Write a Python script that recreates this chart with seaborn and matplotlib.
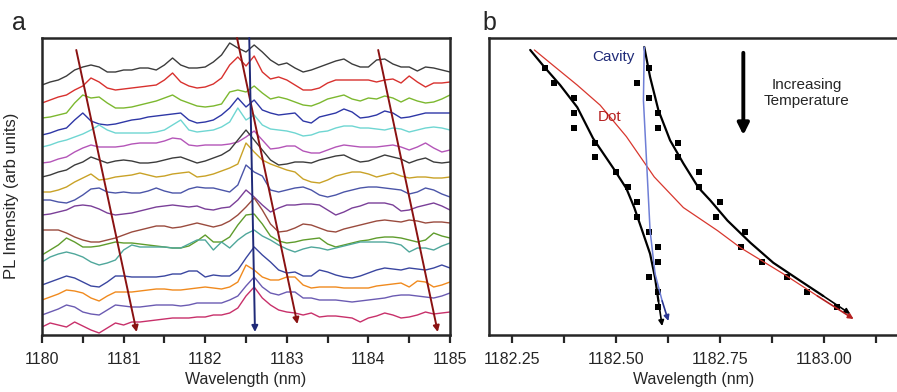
import numpy as np
import pandas as pd
import seaborn as sns
import matplotlib.pyplot as plt

# ---- panel a: stacked PL spectra (arb units, offset already included) ----
wavelength = np.round(np.linspace(1180, 1185, 51), 2)

spectra = [
    [255,258,260,264,270,273,275,273,268,268,270,270,272,272,270,275,282,275,272,272,273,278,285,297,292,288,295,288,280,275,277,272,268,270,273,276,279,281,276,273,273,280,281,276,273,273,269,273,272,270,268],
    [237,240,243,245,250,254,262,258,252,250,251,252,253,254,255,260,267,258,254,252,253,256,262,275,283,274,284,268,261,263,260,255,250,250,252,257,260,260,260,260,260,258,260,261,257,264,258,253,257,257,258],
    [222,223,225,227,237,245,242,243,237,232,232,233,235,237,239,242,245,240,237,234,233,234,236,248,250,248,254,247,241,243,241,238,235,234,237,241,243,245,241,239,242,241,244,242,238,242,239,237,238,241,245],
    [205,207,210,212,220,227,219,216,215,216,218,220,221,223,224,225,226,227,220,217,218,220,225,232,242,233,240,230,227,225,226,227,219,217,223,225,227,231,228,222,223,225,229,227,222,223,225,227,227,227,227],
    [193,195,198,200,203,206,210,215,210,207,207,207,207,207,208,210,215,220,210,208,209,210,213,218,232,220,225,215,211,210,209,207,204,205,208,209,212,214,214,212,212,211,210,212,211,208,210,212,213,212,210],
    [177,178,181,183,188,192,195,193,193,193,194,196,197,197,197,199,202,201,195,194,195,195,195,196,198,203,209,200,191,192,194,194,189,187,187,190,193,195,194,193,193,193,194,195,193,190,193,197,192,188,190],
    [163,165,168,170,175,178,183,180,177,179,180,179,177,177,178,180,182,183,180,177,179,182,185,190,200,210,200,190,180,175,176,178,178,177,180,182,184,185,181,178,179,182,185,183,181,177,180,182,178,177,178],
    [148,148,150,153,158,162,166,160,161,163,164,165,167,165,163,164,166,167,168,163,164,166,169,172,176,197,188,180,176,173,170,168,161,158,157,160,164,166,168,168,166,163,165,167,164,162,163,163,162,162,163],
    [140,140,138,137,140,145,151,152,148,147,148,147,147,149,152,149,147,147,151,153,152,152,150,148,155,175,168,164,150,148,150,152,153,150,145,143,145,148,150,152,153,153,152,151,150,146,148,152,150,146,143],
    [125,126,128,130,134,135,134,131,127,125,126,127,129,131,133,134,135,134,133,134,131,130,132,133,140,150,143,135,128,132,135,135,136,136,135,130,125,128,132,134,137,137,137,135,129,130,133,135,137,134,130],
    [110,110,110,107,103,100,98,98,100,102,105,108,110,112,114,114,112,113,115,117,115,113,115,119,125,133,142,130,116,108,109,112,116,115,112,109,108,111,113,115,117,119,120,119,118,120,119,117,118,118,117],
    [85,90,95,102,98,93,93,94,96,98,97,97,96,95,94,93,92,92,94,99,105,98,98,103,115,125,126,116,104,99,97,98,100,101,102,96,93,95,97,99,100,102,103,103,102,100,98,100,107,104,102],
    [78,83,86,88,86,83,78,75,77,80,90,95,93,93,93,93,92,92,96,100,100,90,98,92,100,106,110,104,100,95,91,88,91,93,92,90,92,94,96,98,98,98,98,97,95,88,92,92,90,94,97],
    [55,58,61,64,62,58,54,53,58,64,64,63,63,63,63,64,66,66,69,69,63,65,64,64,70,82,93,85,78,70,67,68,64,64,70,68,65,63,62,64,67,70,72,71,70,72,71,70,72,75,72],
    [40,43,46,50,49,47,42,39,44,48,48,48,49,50,51,51,50,50,51,52,53,52,51,53,58,75,70,63,60,60,63,63,55,52,53,53,53,52,52,52,52,54,55,56,57,53,59,58,53,55,58],
    [25,28,31,35,33,28,26,25,30,35,34,33,33,34,35,35,35,34,35,37,37,37,37,40,44,54,63,53,47,45,48,48,42,42,40,40,40,39,38,39,40,41,42,44,45,45,44,43,42,44,47],
    [13,17,15,13,18,14,10,7,12,17,15,18,18,19,20,21,22,22,22,23,23,25,25,27,32,44,53,42,35,30,28,27,25,27,23,24,24,23,22,18,22,24,27,25,22,23,25,28,26,27,28],
]
trace_colors = ["#3c3c3c", "#d8312e", "#7cb82f", "#2e37a6", "#6fd6d2", "#b455b8",
                "#3c3c3c", "#c9a227", "#4b55a8", "#7a3f98", "#9a4b3e", "#5f9c2c",
                "#4fa79b", "#3a46a0", "#f08a1e", "#6b5bb2", "#c8306a"]

# guide arrows in panel a: (x0, y0, x1, y1)
dot_arrows_a = [(1180.42, 290, 1181.16, 8), (1182.39, 302, 1183.13, 16), (1184.12, 290, 1184.85, 8)]
cavity_arrow_a = (1182.54, 302, 1182.61, 8)

# ---- panel b: peak positions vs temperature step ----
temp_step = list(range(1, 18))
branch_low = [1182.33, 1182.35, 1182.40, 1182.40, 1182.40, 1182.45, 1182.45, 1182.50, 1182.53,
              1182.55, 1182.55, 1182.58, 1182.60, 1182.60, 1182.58, 1182.60, 1182.60]
branch_high = [1182.58, 1182.55, 1182.58, 1182.60, 1182.60, 1182.65, 1182.65, 1182.70, 1182.70,
               1182.75, 1182.74, 1182.81, 1182.80, 1182.85, 1182.91, 1182.96, 1183.03]

fit_low_x = [1182.294, 1182.328, 1182.366, 1182.407, 1182.445, 1182.494, 1182.525, 1182.544,
             1182.563, 1182.582, 1182.594, 1182.602, 1182.611]
fit_low_y = [-0.19, 0.95, 2.16, 3.64, 5.72, 7.73, 9.07, 10.35, 11.89, 13.44, 15.05, 16.59, 18.27]
fit_high_x = [1182.568, 1182.582, 1182.602, 1182.630, 1182.662, 1182.698, 1182.727, 1182.768,
              1182.823, 1182.878, 1182.943, 1182.998, 1183.063]
fit_high_y = [-0.39, 1.62, 3.84, 5.85, 7.40, 9.01, 9.88, 11.22, 12.70, 14.04, 15.25, 16.26, 17.46]
dot_x = [1182.304, 1182.342, 1182.407, 1182.462, 1182.525, 1182.592, 1182.662, 1182.744,
         1182.799, 1182.902, 1182.984, 1183.071]
dot_y = [-0.19, 0.68, 2.16, 3.50, 5.60, 8.30, 10.35, 11.89, 13.03, 14.78, 16.26, 17.80]
cavity_x = [1182.568, 1182.566, 1182.575, 1182.582, 1182.594, 1182.611, 1182.626]
cavity_y = [-0.39, 3.17, 8.07, 11.90, 14.78, 16.59, 17.93]

sns.set_theme(style="ticks")
plt.rcParams["font.family"] = ["Liberation Sans", "DejaVu Sans"]
plt.rcParams["axes.linewidth"] = 1.8
plt.rcParams["xtick.major.width"] = 1.6
plt.rcParams["xtick.minor.width"] = 1.6

fig = plt.figure(figsize=(8.97, 3.92), dpi=100)
ax1 = fig.add_axes([42 / 897, 57 / 392, 408 / 897, 297 / 392])
ax2 = fig.add_axes([489 / 897, 57 / 392, 410 / 897, 297 / 392])

# panel a
df = pd.DataFrame({
    "wavelength": np.tile(wavelength, len(spectra)),
    "intensity": np.concatenate(spectra),
    "trace": np.repeat([f"t{i}" for i in range(len(spectra))], len(wavelength)),
})
sns.lineplot(data=df, x="wavelength", y="intensity", hue="trace",
             palette=trace_colors, legend=False, lw=1.0, errorbar=None, ax=ax1)
for x0, y0, x1, y1 in dot_arrows_a:
    ax1.annotate("", xy=(x1, y1), xytext=(x0, y0),
                 arrowprops=dict(arrowstyle="-|>", color="#8a1212", lw=1.4,
                                 mutation_scale=9, shrinkA=0, shrinkB=0))
x0, y0, x1, y1 = cavity_arrow_a
ax1.annotate("", xy=(x1, y1), xytext=(x0, y0),
             arrowprops=dict(arrowstyle="-|>", color="#1f2a78", lw=1.4,
                             mutation_scale=9, shrinkA=0, shrinkB=0))
ax1.set_xlim(1180, 1185)
ax1.set_ylim(5, 302)
ax1.set_xticks([1180, 1181, 1182, 1183, 1184, 1185])
ax1.set_xticks(np.arange(1180.5, 1185, 1.0), minor=True)
ax1.set_yticks([])
ax1.set_xlabel("Wavelength (nm)", fontsize=11.5, labelpad=4)
ax1.set_ylabel("PL Intensity (arb units)", fontsize=12)
ax1.yaxis.set_label_coords(-0.056, 0.468)
ax1.text(-0.074, 1.027, "a", transform=ax1.transAxes, fontsize=18, va="baseline")

# panel b
sns.scatterplot(x=branch_low + branch_high, y=temp_step + temp_step, marker="s",
                color="black", s=16, edgecolor="black", linewidth=0, ax=ax2)
sns.lineplot(x=fit_low_x[:-1], y=fit_low_y[:-1], sort=False, color="black", lw=1.6, ax=ax2)
sns.lineplot(x=fit_high_x[:-1], y=fit_high_y[:-1], sort=False, color="black", lw=1.6, ax=ax2)
sns.lineplot(x=dot_x[:-1], y=dot_y[:-1], sort=False, color="#d8372e", lw=0.9, ax=ax2)
sns.lineplot(x=cavity_x[:-1], y=cavity_y[:-1], sort=False, color="#6f7fd6", lw=1.1, ax=ax2)
for xs, ys, c in [(fit_low_x, fit_low_y, "black"), (fit_high_x, fit_high_y, "black"),
                  (dot_x, dot_y, "#b52020"), (cavity_x, cavity_y, "#2a3590")]:
    ax2.annotate("", xy=(xs[-1], ys[-1]), xytext=(xs[-2], ys[-2]),
                 arrowprops=dict(arrowstyle="-|>", color=c, lw=1.2,
                                 mutation_scale=8, shrinkA=0, shrinkB=0))
ax2.annotate("", xy=(1182.806, 5.5), xytext=(1182.806, 0.0),
             arrowprops=dict(arrowstyle="-|>", color="black", lw=2.8,
                             mutation_scale=17, shrinkA=0, shrinkB=0))
ax2.text(1182.494, 0.3, "Cavity", color="#1f2a78", fontsize=11, ha="center", va="center")
ax2.text(1182.484, 4.3, "Dot", color="#b52020", fontsize=11, ha="center", va="center")
ax2.text(1182.958, 2.7, "Increasing\nTemperature", fontsize=11, ha="center", va="center",
         multialignment="center", linespacing=1.2)
ax2.set_xlim(1182.195, 1183.18)
ax2.set_ylim(18.87, -0.99)
ax2.set_xticks([1182.25, 1182.50, 1182.75, 1183.00])
ax2.set_xticklabels(["1182.25", "1182.50", "1182.75", "1183.00"])
ax2.set_xticks([1182.375, 1182.625, 1182.875, 1183.125], minor=True)
ax2.set_yticks([])
ax2.set_xlabel("Wavelength (nm)", fontsize=11.5, labelpad=4)
ax2.set_ylabel("")
ax2.spines["right"].set_visible(False)
ax2.text(-0.017, 1.027, "b", transform=ax2.transAxes, fontsize=18, va="baseline")

for ax in (ax1, ax2):
    ax.tick_params(axis="x", which="both", direction="out", length=6, labelsize=11.5, pad=6)

fig.savefig("out.png", dpi=100)
